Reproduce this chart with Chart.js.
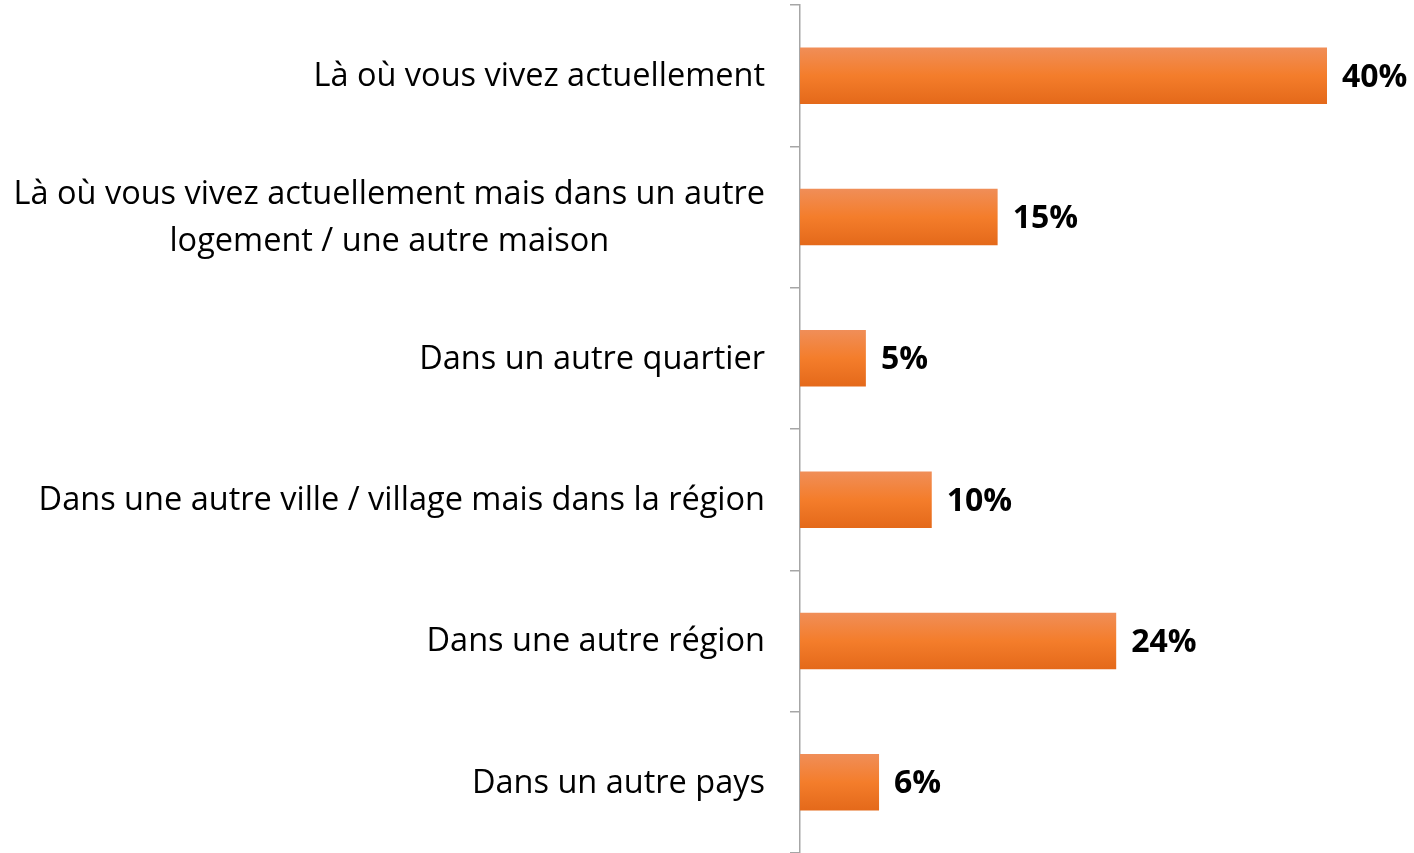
<!DOCTYPE html>
<html>
<head>
<meta charset="utf-8">
<script src="https://cdn.jsdelivr.net/npm/chart.js@4/dist/chart.umd.min.js"></script>
<style>
    html, body { margin: 0; padding: 0; background: #fff; }
    #wrap { width: 1414px; height: 853px; position: relative; }
</style>
</head>
<body>
<div id="wrap"><canvas id="chart"></canvas></div>
<script>
const categories = [
    ['Là où vous vivez actuellement'],
    ['Là où vous vivez actuellement mais dans un autre', 'logement / une autre maison'],
    ['Dans un autre quartier'],
    ['Dans une autre ville / village mais dans la région'],
    ['Dans une autre région'],
    ['Dans un autre pays']
];
const percentages = [40, 15, 5, 10, 24, 6];

const labelFont = '32.5px "Open Sans"';
const valueFont = 'bold 32px "Open Sans"';
const barPct = 0.4;

// category labels: block right-aligned to the axis, lines centred inside the block
const categoryLabels = {
    id: 'categoryLabels',
    afterDraw(chart) {
        const ctx = chart.ctx;
        const yScale = chart.scales.y;
        const right = chart.chartArea.left - 35;
        const lineHeight = 47;
        ctx.save();
        ctx.font = labelFont;
        ctx.fillStyle = '#000';
        ctx.textBaseline = 'middle';
        ctx.textAlign = 'center';
        categories.forEach((lines, i) => {
            const y = yScale.getPixelForValue(i) + 1;
            const blockWidth = Math.max(...lines.map(l => ctx.measureText(l).width));
            const cx = right - blockWidth / 2;
            const top = y - (lines.length - 1) * lineHeight / 2;
            lines.forEach((line, j) => ctx.fillText(line, cx, top + j * lineHeight));
        });
        ctx.restore();
    }
};

// percentage labels at the end of each bar
const valueLabels = {
    id: 'valueLabels',
    afterDatasetsDraw(chart) {
        const ctx = chart.ctx;
        const meta = chart.getDatasetMeta(0);
        ctx.save();
        ctx.font = valueFont;
        ctx.fillStyle = '#000';
        ctx.textBaseline = 'middle';
        ctx.textAlign = 'left';
        meta.data.forEach((bar, i) => {
            ctx.fillText(percentages[i] + '%', bar.x + 15, bar.y + 2);
        });
        ctx.restore();
    }
};

function barGradient(context) {
    const chart = context.chart;
    const yScale = chart.scales.y;
    if (!chart.chartArea || !yScale) return '#F47D2C';
    const band = chart.chartArea.height / categories.length * barPct;
    const center = yScale.getPixelForValue(context.dataIndex);
    const g = chart.ctx.createLinearGradient(0, center - band / 2, 0, center + band / 2);
    g.addColorStop(0, '#F08E58');
    g.addColorStop(0.5, '#F47D2B');
    g.addColorStop(1, '#E4691A');
    return g;
}

new Chart(document.getElementById('chart'), {
    type: 'bar',
    data: {
        labels: categories.map(c => c.join(' ')),
        datasets: [{
            data: percentages,
            backgroundColor: barGradient,
            borderWidth: 0,
            barPercentage: barPct,
            categoryPercentage: 1
        }]
    },
    options: {
        indexAxis: 'y',
        responsive: true,
        maintainAspectRatio: false,
        animation: false,
        layout: { padding: { top: 5, right: 87, bottom: 0, left: 0 } },
        plugins: {
            legend: { display: false },
            tooltip: { enabled: false }
        },
        scales: {
            x: {
                display: false,
                min: 0,
                max: 40
            },
            y: {
                afterFit(scale) { scale.width = 800; },
                ticks: { display: false },
                border: { display: true, color: '#a6a6a6', width: 1.5 },
                grid: {
                    offset: true,
                    drawOnChartArea: false,
                    drawTicks: true,
                    tickLength: 10,
                    color: '#a6a6a6',
                    lineWidth: 1.5
                }
            }
        }
    },
    plugins: [categoryLabels, valueLabels]
});
</script>
</body>
</html>
